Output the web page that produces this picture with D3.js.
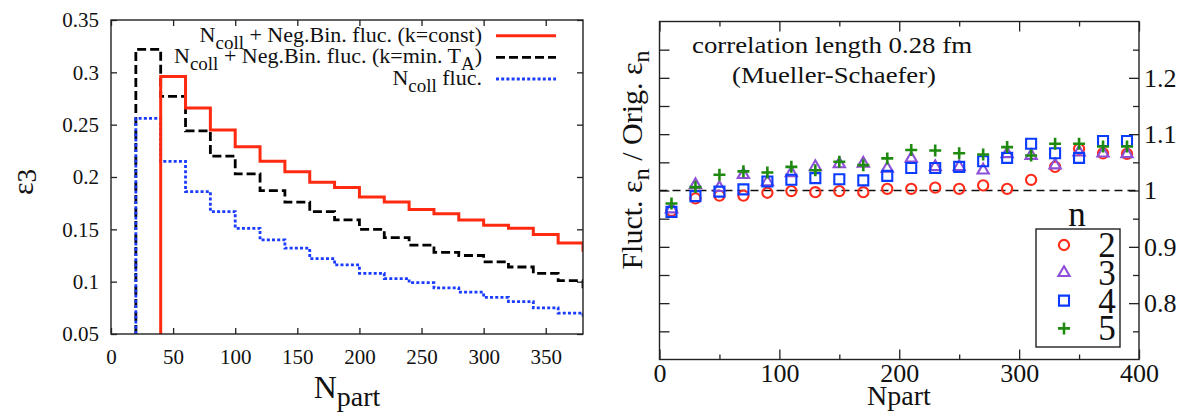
<!DOCTYPE html>
<html>
<head>
<meta charset="UTF-8">
<script src="https://d3js.org/d3.v7.min.js"></script>
<style>
  body { margin: 0; background: #fff; }
  svg text { font-family: "Liberation Serif", "Times New Roman", serif; fill: #111; }
  .axis .domain { display: none; }
  .axis line { stroke: #222; stroke-width: 1.3px; }
  .frame { fill: none; stroke: #222; stroke-width: 1.4px; }
</style>
</head>
<body>
<svg id="chart" width="1183" height="413"></svg>
<script>
// ---- left panel: eps3 vs Npart, histograms with 20-wide bins ----
const binLeft = [20, 40, 60, 80, 100, 120, 140, 160, 180, 200, 220, 240, 260, 280, 300, 320, 340, 360, 380];
const binW = 20;
const eps3KConst = [null, 0.296, 0.266, 0.245, 0.229, 0.215, 0.205, 0.195, 0.190, 0.181, 0.176, 0.169, 0.165, 0.159, 0.154, 0.151, 0.145, 0.137, 0.130];
const eps3KMinTA = [0.322, 0.277, 0.244, 0.220, 0.203, 0.187, 0.176, 0.167, 0.159, 0.150, 0.142, 0.135, 0.128, 0.125, 0.119, 0.114, 0.108, 0.101, 0.095];
const eps3Ncoll = [0.256, 0.215, 0.186, 0.167, 0.151, 0.140, 0.132, 0.122, 0.116, 0.108, 0.103, 0.099, 0.094, 0.090, 0.085, 0.081, 0.075, 0.070, 0.066];
const leftXTicks = [0, 50, 100, 150, 200, 250, 300, 350];
const leftYTicks = [0.05, 0.1, 0.15, 0.2, 0.25, 0.3, 0.35];

// ---- right panel: ratio fluct/orig eps_n ----
const npart = [10, 30, 50, 70, 90, 110, 130, 150, 170, 190, 210, 230, 250, 270, 290, 310, 330, 350, 370, 390];
const ratioN2 = [0.964, 0.986, 0.991, 0.991, 0.996, 0.999, 0.997, 0.999, 0.997, 1.003, 1.003, 1.005, 1.003, 1.009, 1.003, 1.019, 1.042, 1.074, 1.066, 1.065];
const ratioN3 = [0.967, 1.010, 1.005, 1.028, 1.015, 1.031, 1.042, 1.047, 1.048, 1.039, 1.057, 1.042, 1.042, 1.036, 1.065, 1.062, 1.045, 1.068, 1.066, 1.065];
const ratioN4 = [0.962, 0.990, 0.998, 1.002, 1.016, 1.019, 1.022, 1.020, 1.018, 1.026, 1.040, 1.040, 1.042, 1.052, 1.058, 1.083, 1.066, 1.058, 1.088, 1.088];
const ratioN5 = [0.977, 1.006, 1.028, 1.034, 1.032, 1.042, 1.036, 1.051, 1.045, 1.057, 1.072, 1.071, 1.066, 1.064, 1.077, 1.062, 1.083, 1.083, 1.078, 1.078];
const rightXTicks = [0, 100, 200, 300, 400];
const rightXMinor = [50, 150, 250, 350];
const rightYTicks = [0.8, 0.9, 1, 1.1, 1.2];
const rightYMinor = [0.75, 0.85, 0.95, 1.05, 1.15, 1.25];

const svg = d3.select("#chart");
const fmt = d => String(+d.toFixed(2));

// ================= left panel =================
const L = {x0: 111, x1: 583, y0: 20, y1: 334};
const xL = d3.scaleLinear().domain([0, 380]).range([L.x0, L.x1]);
const yL = d3.scaleLinear().domain([0.05, 0.35]).range([L.y1, L.y0]);

svg.append("clipPath").attr("id", "clipL")
  .append("rect").attr("x", L.x0).attr("y", L.y0)
  .attr("width", L.x1 - L.x0).attr("height", L.y1 - L.y0);

svg.append("g").attr("class", "axis").attr("transform", `translate(${L.x0},0)`)
  .call(d3.axisLeft(yL).tickValues(leftYTicks).tickSize(-6).tickPadding(12).tickFormat(fmt))
  .selectAll("text").style("font-size", "21px");
svg.append("g").attr("class", "axis").attr("transform", `translate(${L.x1},0)`)
  .call(d3.axisRight(yL).tickValues(leftYTicks).tickSize(-6).tickFormat(""));
svg.append("g").attr("class", "axis").attr("transform", `translate(0,${L.y1})`)
  .call(d3.axisBottom(xL).tickValues(leftXTicks).tickSize(-6).tickPadding(15).tickFormat(d3.format("d")))
  .selectAll("text").style("font-size", "21px");
svg.append("g").attr("class", "axis").attr("transform", `translate(0,${L.y0})`)
  .call(d3.axisTop(xL).tickValues(leftXTicks).tickSize(-6).tickFormat(""));

function stepPoints(vals) {
  const pts = [];
  vals.forEach((v, i) => {
    if (v == null) return;
    if (!pts.length) pts.push([binLeft[i], 0.05]); // rise from the floor
    pts.push([binLeft[i], v]);
  });
  const last = vals.length - 1;
  pts.push([binLeft[last] + binW, vals[last]]);
  return pts;
}
const stepLine = d3.line().x(d => xL(d[0])).y(d => yL(d[1])).curve(d3.curveStepAfter);

const histSeries = [
  {vals: eps3KMinTA, color: "#000", dash: "9,4", w: 2.8},
  {vals: eps3Ncoll, color: "#1a3cff", dash: "3,2.2", w: 2.8},
  {vals: eps3KConst, color: "#ff2a10", dash: null, w: 3}
];
const gH = svg.append("g").attr("clip-path", "url(#clipL)");
histSeries.forEach(s => {
  gH.append("path").attr("d", stepLine(stepPoints(s.vals)))
    .attr("fill", "none").attr("stroke", s.color).attr("stroke-width", s.w)
    .attr("stroke-dasharray", s.dash);
});

svg.append("rect").attr("class", "frame")
  .attr("x", L.x0).attr("y", L.y0).attr("width", L.x1 - L.x0).attr("height", L.y1 - L.y0);

// legend (left)
const legL = [
  {pre: "N", sub: "coll", post: " + Neg.Bin. fluc. (k=const)", s: histSeries[2], y: 41.7},
  {pre: "N", sub: "coll", post: " + Neg.Bin. fluc. (k=min. T", sub2: "A", end: ")", s: histSeries[0], y: 63.3},
  {pre: "N", sub: "coll", post: " fluc.", s: histSeries[1], y: 85}
];
legL.forEach(r => {
  const t = svg.append("text").attr("x", 482).attr("y", r.y)
    .attr("text-anchor", "end").style("font-size", "22px");
  t.append("tspan").text(r.pre);
  t.append("tspan").attr("dy", 7).style("font-size", "19px").text(r.sub);
  t.append("tspan").attr("dy", -7).text(r.post);
  if (r.sub2) {
    t.append("tspan").attr("dy", 7).style("font-size", "19px").text(r.sub2);
    t.append("tspan").attr("dy", -7).text(r.end);
  }
  svg.append("line").attr("x1", 496).attr("x2", 556)
    .attr("y1", r.y - 6).attr("y2", r.y - 6)
    .attr("stroke", r.s.color).attr("stroke-width", r.s.w)
    .attr("stroke-dasharray", r.s.dash);
});

// axis titles (left)
const eLab = svg.append("text").attr("transform", "translate(33,182) rotate(-90)")
  .attr("text-anchor", "middle").style("font-size", "30px");
eLab.append("tspan").text("ε");
eLab.append("tspan").attr("dy", 3).style("font-size", "27px").text("3");

const nLab = svg.append("text").attr("x", 347).attr("y", 398)
  .attr("text-anchor", "middle").style("font-size", "32px");
nLab.append("tspan").text("N");
nLab.append("tspan").attr("dy", 8).style("font-size", "28px").text("part");

// ================= right panel =================
const R = {x0: 659.5, x1: 1139, y0: 21.5, y1: 359.5};
const xR = d3.scaleLinear().domain([0, 400]).range([R.x0, R.x1]);
const yR = d3.scaleLinear().domain([0.7, 1.3]).range([R.y1, R.y0]);

svg.append("g").attr("class", "axis").attr("transform", `translate(${R.x0},0)`)
  .call(d3.axisLeft(yR).tickValues(rightYTicks.concat(rightYMinor)).tickSize(-10).tickFormat(""));
svg.append("g").attr("class", "axis").attr("transform", `translate(${R.x1},0)`)
  .call(d3.axisRight(yR).tickValues(rightYTicks).tickSize(-10).tickPadding(5).tickFormat(fmt))
  .selectAll("text").style("font-size", "26px");
svg.append("g").attr("class", "axis").attr("transform", `translate(${R.x1},0)`)
  .call(d3.axisRight(yR).tickValues(rightYMinor).tickSize(-6).tickFormat(""));
svg.append("g").attr("class", "axis").attr("transform", `translate(0,${R.y1})`)
  .call(d3.axisBottom(xR).tickValues(rightXTicks).tickSize(-10).tickPadding(4).tickFormat(d3.format("d")))
  .selectAll("text").style("font-size", "26px");
svg.append("g").attr("class", "axis").attr("transform", `translate(0,${R.y1})`)
  .call(d3.axisBottom(xR).tickValues(rightXMinor).tickSize(-5).tickFormat(""));
svg.append("g").attr("class", "axis").attr("transform", `translate(0,${R.y0})`)
  .call(d3.axisTop(xR).tickValues(rightXTicks).tickSize(-10).tickFormat(""));
svg.append("g").attr("class", "axis").attr("transform", `translate(0,${R.y0})`)
  .call(d3.axisTop(xR).tickValues(rightXMinor).tickSize(-5).tickFormat(""));

// reference line at 1
svg.append("line").attr("x1", R.x0).attr("x2", R.x1)
  .attr("y1", yR(1)).attr("y2", yR(1))
  .attr("stroke", "#111").attr("stroke-width", 1.5).attr("stroke-dasharray", "8,5");

const plusPath = "M-6,0H6M0,-6V6";
const markSeries = [
  {n: 2, vals: ratioN2, color: "#ff2a1a", d: d3.symbol(d3.symbolCircle, 82)()},
  {n: 3, vals: ratioN3, color: "#8c4fd6", d: d3.symbol(d3.symbolTriangle, 55)()},
  {n: 4, vals: ratioN4, color: "#0a3cff", d: d3.symbol(d3.symbolSquare, 100)()},
  {n: 5, vals: ratioN5, color: "#1f8a10", d: plusPath}
];
markSeries.forEach(s => {
  svg.append("g").selectAll("path").data(s.vals).enter().append("path")
    .attr("transform", (v, i) => `translate(${xR(npart[i])},${yR(v)})`)
    .attr("d", s.d).attr("fill", "none").attr("stroke", s.color)
    .attr("stroke-width", s.n === 5 ? 2.6 : 2.1);
});

svg.append("rect").attr("class", "frame")
  .attr("x", R.x0).attr("y", R.y0).attr("width", R.x1 - R.x0).attr("height", R.y1 - R.y0);

// title inside the plot
svg.append("text").attr("x", 832).attr("y", 53).attr("text-anchor", "middle")
  .attr("textLength", 280).attr("lengthAdjust", "spacingAndGlyphs")
  .style("font-size", "24px").text("correlation length 0.28 fm");
svg.append("text").attr("x", 834).attr("y", 83).attr("text-anchor", "middle")
  .attr("textLength", 204).attr("lengthAdjust", "spacingAndGlyphs")
  .style("font-size", "24px").text("(Mueller-Schaefer)");

// legend (right)
svg.append("text").attr("x", 1077).attr("y", 226).attr("text-anchor", "middle")
  .style("font-size", "35px").text("n");
svg.append("rect").attr("x", 1036).attr("y", 229).attr("width", 84).attr("height", 118)
  .attr("fill", "#fff").attr("stroke", "#222").attr("stroke-width", 1.4);
markSeries.forEach((s, i) => {
  const cy = 245 + i * 27.8;
  svg.append("path").attr("transform", `translate(1064,${cy})`)
    .attr("d", s.d).attr("fill", "none").attr("stroke", s.color)
    .attr("stroke-width", s.n === 5 ? 2.6 : 2.1);
  svg.append("text").attr("x", 1107).attr("y", cy + 12).attr("text-anchor", "middle")
    .style("font-size", "35px").text(s.n);
});

// axis titles (right)
const yLab = svg.append("text").attr("transform", "translate(642,160) rotate(-90)")
  .attr("text-anchor", "middle").style("font-size", "30px");
yLab.append("tspan").text("Fluct. ε");
yLab.append("tspan").attr("dy", 7).style("font-size", "24px").text("n");
yLab.append("tspan").attr("dy", -7).text(" / Orig. ε");
yLab.append("tspan").attr("dy", 7).style("font-size", "24px").text("n");

svg.append("text").attr("x", 899).attr("y", 405).attr("text-anchor", "middle")
  .style("font-size", "28px").text("Npart");
</script>
</body>
</html>
